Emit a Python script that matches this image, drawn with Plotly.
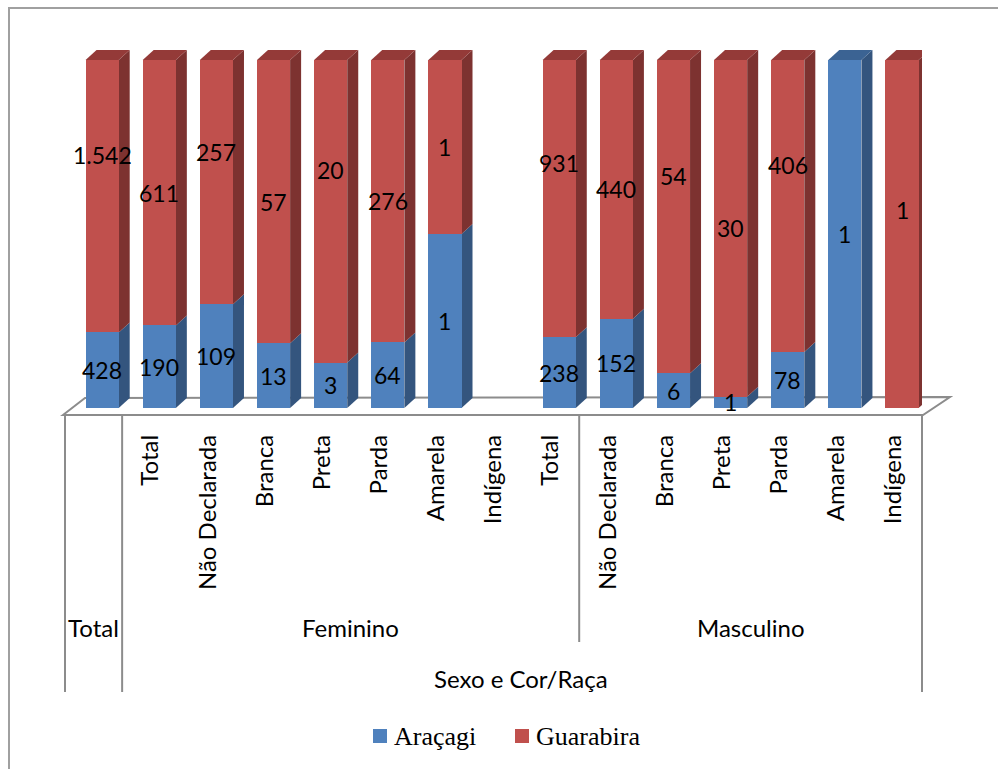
import plotly.graph_objects as go

# ---- data -------------------------------------------------------------
categories = ["", "Total", "Não Declarada", "Branca", "Preta", "Parda", "Amarela",
              "Indígena", "Total", "Não Declarada", "Branca", "Preta", "Parda",
              "Amarela", "Indígena"]
group_labels = ["Total", "Feminino", "Masculino"]
group_first = [0, 1, 9]
group_last = [0, 8, 14]
axis_title = "Sexo e Cor/Raça"

aracagi = [428, 190, 109, 13, 3, 64, 1, None, 238, 152, 6, 1, 78, 1, 0]
guarabira = [1542, 611, 257, 57, 20, 276, 1, None, 931, 440, 54, 30, 406, 0, 1]

# vertical nudge (px) of the Guarabira value labels
guarabira_label_lift = [41, 0, 30, 0, 41, 0, 0, 0, 36, 0, 41, 0, 41, 0, 24]

# ---- geometry ---------------------------------------------------------
W, H = 998, 769
L, R, T, B = 65, 922, 40, 415          # plot area in pixels
Y0_PX, Y100_PX = 408, 60               # pixel rows of 0 % and 100 %
n = len(categories)
ppx = (R - L) / n                      # pixels per category
ppy = (Y0_PX - Y100_PX) / 100.0        # pixels per percent
y_lo = -(B - Y0_PX) / ppy
y_hi = 100 + (Y100_PX - T) / ppy

BAR_W = 0.58
BAR_OFF = -0.14                        # front face shifted right (perspective)
DX = 11 / ppx                          # depth of bars, data units
DY = 10 / ppy

BLUE, BLUE_SIDE, BLUE_TOP = "#4F81BD", "#34557E", "#3B6393"
RED, RED_SIDE, RED_TOP = "#C0504D", "#7D3230", "#943A38"
GRID = "#8C8C8C"
FONT = "Lato"
VALUE_SIZE = 23
LABEL_SIZE = 24


def px_x(px):
    return (px - L) / (R - L)


def px_y(py):
    return (B - py) / (B - T)


def fmt(v):
    return f"{v:,}".replace(",", ".")


fig = go.Figure()
xs = list(range(n))
fig.add_trace(go.Bar(x=xs, y=aracagi, name="Araçagi", marker=dict(color=BLUE, line=dict(width=0)),
                     width=BAR_W, offset=BAR_OFF, hoverinfo="skip"))
fig.add_trace(go.Bar(x=xs, y=guarabira, name="Guarabira", marker=dict(color=RED, line=dict(width=0)),
                     width=BAR_W, offset=BAR_OFF, hoverinfo="skip"))

shapes = []
annotations = []

# floor plate
fl, fr = L - 2, R + 1
shapes.append(dict(type="path", xref="paper", yref="paper", layer="below",
                   path=f"M{px_x(fl)},{px_y(B)} L{px_x(fl + 22)},{px_y(B - 17)} "
                        f"L{px_x(fr + 27)},{px_y(B - 18)} L{px_x(fr)},{px_y(B)} Z",
                   line=dict(color=GRID, width=2), fillcolor="white"))

# 3D side and top faces derived from each stacked segment
for i in range(n):
    a, g = aracagi[i], guarabira[i]
    if a is None or g is None or a + g == 0:
        continue
    pa = a / (a + g) * 100
    xl = i + BAR_OFF
    xr = xl + BAR_W
    segs = [(0, pa, BLUE_SIDE, BLUE_TOP), (pa, 100, RED_SIDE, RED_TOP)]
    for (y0, y1, side, top) in segs:
        if y1 - y0 <= 0:
            continue
        shapes.append(dict(type="path", xref="x", yref="y", layer="below", line=dict(width=0),
                           fillcolor=side,
                           path=f"M{xr},{y0} L{xr + DX},{y0 + DY} L{xr + DX},{y1 + DY} L{xr},{y1} Z"))
    top_col = RED_TOP if g > 0 else BLUE_TOP
    shapes.append(dict(type="path", xref="x", yref="y", layer="below", line=dict(width=0),
                       fillcolor=top_col,
                       path=f"M{xl},100 L{xl + DX},{100 + DY} L{xr + DX},{100 + DY} L{xr},100 Z"))

    cx = xl + BAR_W / 2
    if a > 0:
        annotations.append(dict(x=cx, y=pa / 2, xref="x", yref="y", text=fmt(a), showarrow=False,
                                font=dict(family=FONT, size=VALUE_SIZE, color="black")))
    if g > 0:
        annotations.append(dict(x=cx, y=(pa + 100) / 2, xref="x", yref="y", text=fmt(g),
                                showarrow=False, yshift=guarabira_label_lift[i] * 1.0,
                                font=dict(family=FONT, size=VALUE_SIZE, color="black")))

# category box dividers
for k, bottom in [(0, 692), (1, 692), (9, 642), (n, 692)]:
    xp = L + k * ppx
    shapes.append(dict(type="line", xref="paper", yref="paper",
                       x0=px_x(xp), x1=px_x(xp), y0=px_y(B), y1=px_y(bottom),
                       line=dict(color=GRID, width=2)))

# group labels
for lab, f, l in zip(group_labels, group_first, group_last):
    cxp = L + (f + l + 1) / 2 * ppx
    annotations.append(dict(x=px_x(cxp), y=px_y(627), xref="paper", yref="paper", text=lab,
                            showarrow=False, xanchor="center", yanchor="middle",
                            font=dict(family=FONT, size=LABEL_SIZE, color="black")))
annotations.append(dict(x=px_x(521), y=px_y(678), xref="paper", yref="paper", text=axis_title,
                        showarrow=False, xanchor="center", yanchor="middle",
                        font=dict(family=FONT, size=LABEL_SIZE, color="black")))

# legend
for name, col, mx in [("Araçagi", BLUE, 373), ("Guarabira", RED, 515)]:
    shapes.append(dict(type="rect", xref="paper", yref="paper", x0=px_x(mx), x1=px_x(mx + 14),
                       y0=px_y(729), y1=px_y(743), fillcolor=col, line=dict(width=0)))
    annotations.append(dict(x=px_x(mx + 19), y=px_y(736), xref="paper", yref="paper", text=name,
                            showarrow=False, xanchor="left", yanchor="middle",
                            font=dict(family="Liberation Serif", size=26, color="black")))

# outer frame
shapes.append(dict(type="rect", xref="paper", yref="paper", x0=px_x(9), y0=px_y(8),
                   x1=px_x(1010), y1=px_y(790), line=dict(color="#A0A0A0", width=2),
                   fillcolor="rgba(0,0,0,0)", layer="below"))

fig.update_layout(
    width=W, height=H,
    margin=dict(l=L, r=W - R, t=T, b=H - B),
    paper_bgcolor="white", plot_bgcolor="white",
    barmode="stack", barnorm="percent", showlegend=False,
    shapes=shapes, annotations=annotations,
    xaxis=dict(range=[-0.5, n - 0.5], tickmode="array", tickvals=xs, ticktext=categories,
               tickangle=-90, showgrid=False, zeroline=False, showline=False, ticks="",
               ticklabelstandoff=14,
               tickfont=dict(family=FONT, size=LABEL_SIZE, color="black"), fixedrange=True),
    yaxis=dict(range=[y_lo, y_hi], visible=False, fixedrange=True),
)

fig.write_html("out.html")
